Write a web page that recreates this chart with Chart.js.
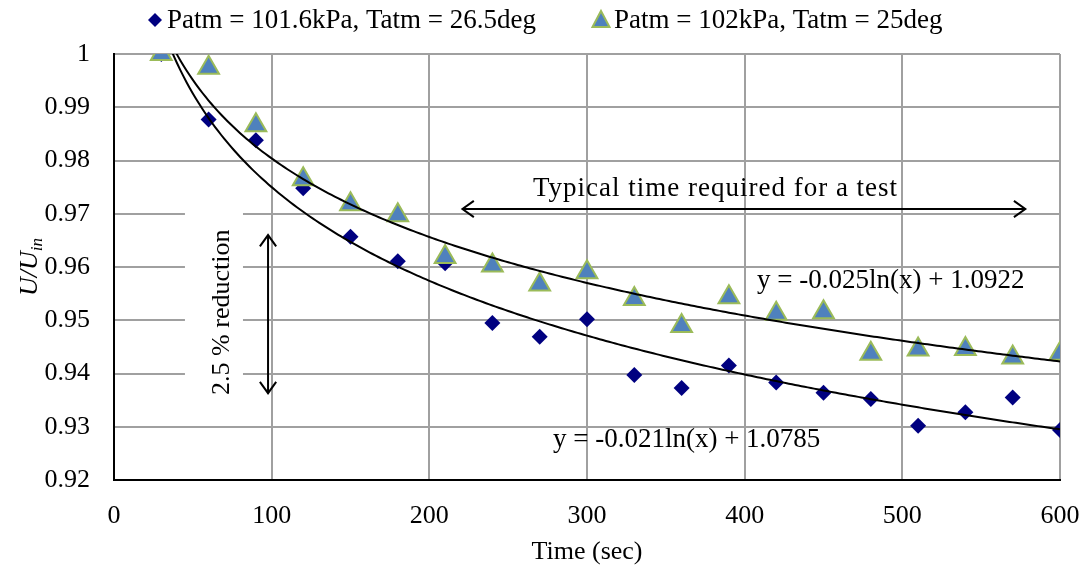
<!DOCTYPE html>
<html>
<head>
<meta charset="utf-8">
<script src="https://cdn.jsdelivr.net/npm/chart.js@4.4.1/dist/chart.umd.min.js"></script>
<style>
  html, body { margin: 0; padding: 0; background: #fff; }
  #wrap { width: 1091px; height: 574px; }
</style>
</head>
<body>
<div id="wrap"><canvas id="graph"></canvas></div>
<script>
// data
const times = [30, 60, 90, 120, 150, 180, 210, 240, 270, 300, 330, 360, 390, 420, 450, 480, 510, 540, 570, 600]
const uDiamond = [1.000, 0.9877, 0.9838, 0.9748, 0.9657, 0.9611, 0.9607, 0.9495, 0.9469, 0.9502,
                  0.9397, 0.9373, 0.9415, 0.9383, 0.9364, 0.9352, 0.9302, 0.9327, 0.9355, 0.9294]
const uTriangle = [1.000, 0.9974, 0.9866, 0.9765, 0.9718, 0.9697, 0.9619, 0.9603, 0.9567, 0.9590,
                   0.9540, 0.9489, 0.9543, 0.9512, 0.9515, 0.9437, 0.9445, 0.9446, 0.9430, 0.9437]
const xTicks = [0, 100, 200, 300, 400, 500, 600]
const yTicks = [0.92, 0.93, 0.94, 0.95, 0.96, 0.97, 0.98, 0.99, 1]
const yTickLabels = ['0.92', '0.93', '0.94', '0.95', '0.96', '0.97', '0.98', '0.99', '1']
const legendLabels = ['Patm = 101.6kPa, Tatm = 26.5deg', 'Patm = 102kPa, Tatm = 25deg']
// trendline equations as printed on the chart
const eqUpper = 'y = -0.025ln(x) + 1.0922'
const eqLower = 'y = -0.021ln(x) + 1.0785'

const FONT = '"Liberation Serif", "Times New Roman", serif'
const NAVY = '#000080'
const TRI_FILL = '#4F81BD'
const TRI_EDGE = '#9BBB59'

// logarithmic least squares fit, like the spreadsheet trendline
function logFit(ys) {
    const n = times.length
    const L = times.map(t => Math.log(t))
    const mL = L.reduce((a, b) => a + b, 0) / n
    const mY = ys.reduce((a, b) => a + b, 0) / n
    let sxy = 0, sxx = 0
    for (let i = 0; i < n; i++) {
        sxy += (L[i] - mL) * (ys[i] - mY)
        sxx += (L[i] - mL) * (L[i] - mL)
    }
    const a = sxy / sxx
    return { a: a, b: mY - a * mL }
}
function trend(ys) {
    const fit = logFit(ys)
    let pts = []
    for (let t = times[0]; t <= times[times.length - 1]; t += 2) {
        pts.push({ x: t, y: fit.a * Math.log(t) + fit.b })
    }
    return pts
}
function pairs(ys) {
    return times.map((t, i) => ({ x: t, y: ys[i] }))
}

function arrowHead(ctx, x, y, ang) {
    const len = 14, spread = 0.62
    ctx.beginPath()
    ctx.moveTo(x + len * Math.cos(ang + spread), y + len * Math.sin(ang + spread))
    ctx.lineTo(x, y)
    ctx.lineTo(x + len * Math.cos(ang - spread), y + len * Math.sin(ang - spread))
    ctx.stroke()
}
function doubleArrow(ctx, x1, y1, x2, y2) {
    ctx.beginPath()
    ctx.moveTo(x1, y1)
    ctx.lineTo(x2, y2)
    ctx.stroke()
    const ang = Math.atan2(y2 - y1, x2 - x1)
    arrowHead(ctx, x1, y1, ang)
    arrowHead(ctx, x2, y2, ang + Math.PI)
}

const extras = {
    id: 'extras',
    beforeDatasetsDraw(chart) {
        const ctx = chart.ctx, xs = chart.scales.x, ys = chart.scales.y
        // white box behind the rotated label
        ctx.save()
        ctx.fillStyle = '#fff'
        const l = xs.getPixelForValue(45), r = xs.getPixelForValue(81.8)
        const t = ys.getPixelForValue(0.9725), b = ys.getPixelForValue(0.9327)
        ctx.fillRect(l, t, r - l, b - t)
        ctx.restore()
    },
    afterDraw(chart) {
        const ctx = chart.ctx, xs = chart.scales.x, ys = chart.scales.y
        ctx.save()
        ctx.fillStyle = '#000'
        ctx.strokeStyle = '#000'
        ctx.lineWidth = 2

        // legend
        ctx.font = '27px ' + FONT
        ctx.textBaseline = 'middle'
        ctx.textAlign = 'left'
        ctx.fillStyle = NAVY
        ctx.beginPath()
        ctx.moveTo(155, 13); ctx.lineTo(162, 20); ctx.lineTo(155, 27); ctx.lineTo(148, 20)
        ctx.closePath(); ctx.fill()
        ctx.fillStyle = '#000'
        ctx.fillText(legendLabels[0], 167, 21)
        ctx.beginPath()
        ctx.moveTo(601, 11); ctx.lineTo(609.5, 27); ctx.lineTo(592.5, 27)
        ctx.closePath()
        ctx.fillStyle = TRI_FILL; ctx.fill()
        ctx.strokeStyle = TRI_EDGE; ctx.lineWidth = 2; ctx.stroke()
        ctx.fillStyle = '#000'; ctx.strokeStyle = '#000'
        ctx.fillText(legendLabels[1], 614, 21)

        // y title U/U_in (italic, subscript)
        ctx.save()
        ctx.translate(31, 296)
        ctx.rotate(-Math.PI / 2)
        ctx.textAlign = 'left'
        ctx.textBaseline = 'alphabetic'
        ctx.font = 'italic 26px ' + FONT
        ctx.fillText('U/U', 0, 6)
        const w = ctx.measureText('U/U').width
        ctx.font = 'italic 17px ' + FONT
        ctx.fillText('in', w, 11)
        ctx.restore()

        // typical time arrow + label
        ctx.lineWidth = 2
        const ay = ys.getPixelForValue(0.9709)
        doubleArrow(ctx, xs.getPixelForValue(221), ay, xs.getPixelForValue(578), ay)
        ctx.font = '27px ' + FONT
        ctx.letterSpacing = '1px'
        ctx.textAlign = 'center'
        ctx.textBaseline = 'middle'
        ctx.fillText('Typical time required for a test', xs.getPixelForValue(381.5), ys.getPixelForValue(0.9747))
        ctx.letterSpacing = '0px'

        // 2.5 % reduction arrow + rotated label
        const vx = xs.getPixelForValue(97.7)
        doubleArrow(ctx, vx, ys.getPixelForValue(0.9660), vx, ys.getPixelForValue(0.9363))
        ctx.save()
        ctx.translate(xs.getPixelForValue(68.5), ys.getPixelForValue(0.9515))
        ctx.rotate(-Math.PI / 2)
        ctx.font = '26px ' + FONT
        ctx.fillText('2.5 % reduction', 0, 0)
        ctx.restore()

        // trendline equations
        ctx.textAlign = 'left'
        ctx.font = '27px ' + FONT
        ctx.fillText(eqUpper, xs.getPixelForValue(407.8), ys.getPixelForValue(0.9573))
        ctx.fillText(eqLower, xs.getPixelForValue(278.4), ys.getPixelForValue(0.9275))
        ctx.restore()
    }
}

document.addEventListener("DOMContentLoaded", function() {
    let context = document.querySelector("#graph").getContext('2d')
    new Chart(context, {
        type: 'scatter',
        data: {
            datasets: [{
                label: legendLabels[0],
                data: pairs(uDiamond),
                pointStyle: 'rectRot',
                pointRadius: 8,
                pointHoverRadius: 8,
                backgroundColor: NAVY,
                borderColor: NAVY,
                borderWidth: 0,
                order: 2,
            }, {
                label: legendLabels[1],
                data: pairs(uTriangle),
                pointStyle: 'triangle',
                pointRadius: 12,
                pointHoverRadius: 12,
                backgroundColor: TRI_FILL,
                borderColor: TRI_EDGE,
                borderWidth: 2,
                order: 1,
            }, {
                label: 'trend 1',
                data: trend(uDiamond),
                showLine: true,
                pointRadius: 0,
                borderColor: '#000',
                borderWidth: 2,
                order: 0,
            }, {
                label: 'trend 2',
                data: trend(uTriangle),
                showLine: true,
                pointRadius: 0,
                borderColor: '#000',
                borderWidth: 2,
                order: 0,
            }],
        },
        options: {
            responsive: true,
            maintainAspectRatio: false,
            animation: false,
            events: [],
            layout: {
                padding: { top: 54, right: 31, left: 0, bottom: 0 },
            },
            plugins: {
                legend: { display: false },
                tooltip: { enabled: false },
            },
            scales: {
                x: {
                    type: 'linear',
                    min: 0,
                    max: 600,
                    afterBuildTicks: (s) => { s.ticks = xTicks.map(v => ({ value: v })) },
                    afterFit: (s) => { s.height = 94; s.paddingRight = 20; s.paddingLeft = 0 },
                    ticks: {
                        color: '#000',
                        padding: 21,
                        maxRotation: 0,
                        font: { family: FONT, size: 26 },
                    },
                    title: {
                        display: true,
                        text: 'Time (sec)',
                        color: '#000',
                        padding: { top: 0, bottom: 6 },
                        font: { family: FONT, size: 26 },
                    },
                    grid: {
                        color: '#A0A0A0',
                        lineWidth: 2,
                        drawTicks: false,
                    },
                    border: { color: '#000', width: 2 },
                },
                y: {
                    type: 'linear',
                    min: 0.92,
                    max: 1,
                    afterBuildTicks: (s) => { s.ticks = yTicks.map(v => ({ value: v })) },
                    afterFit: (s) => { s.width = 114 },
                    ticks: {
                        color: '#000',
                        padding: 24,
                        font: { family: FONT, size: 26 },
                        callback: (v) => {
                            const i = yTicks.findIndex(t => Math.abs(t - v) < 1e-6)
                            return i >= 0 ? yTickLabels[i] : ''
                        },
                    },
                    grid: {
                        color: '#A0A0A0',
                        lineWidth: 2,
                        drawTicks: false,
                    },
                    border: { color: '#000', width: 2 },
                },
            },
        },
        plugins: [extras],
    })
})
</script>
</body>
</html>
